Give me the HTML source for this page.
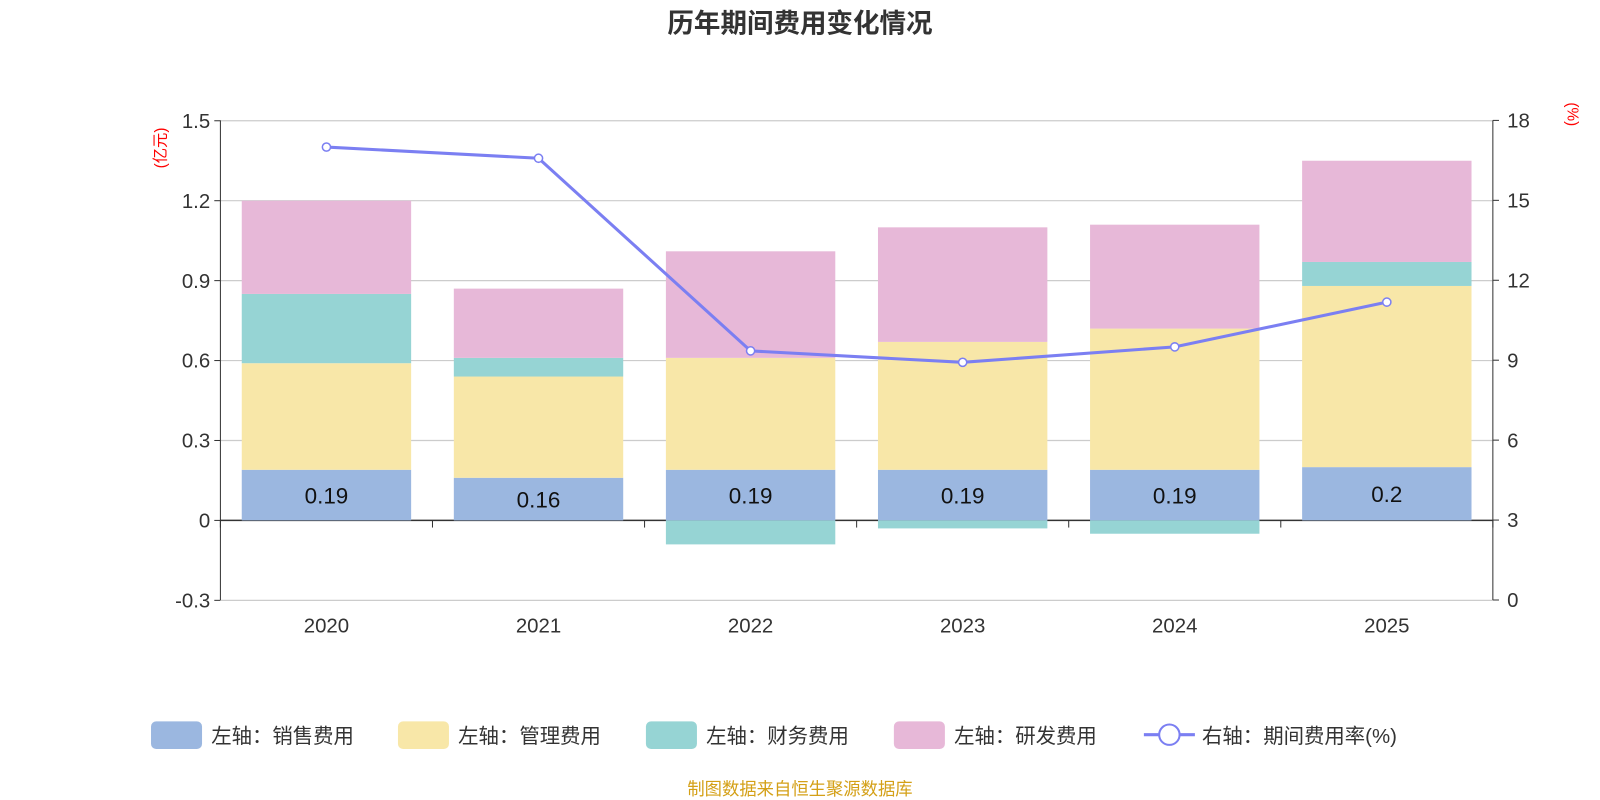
<!DOCTYPE html>
<html><head><meta charset="utf-8"><style>
body{margin:0;background:#fff;font-family:"Liberation Sans","Noto Sans CJK SC",sans-serif}
</style></head><body>
<svg id="c" width="1600" height="800" viewBox="0 0 1568 784" xmlns="http://www.w3.org/2000/svg" style="font-family:'Liberation Sans','Noto Sans CJK SC',sans-serif;display:block">
<text x="784" y="32" text-anchor="middle" font-size="26" font-weight="bold" fill="#333">历年期间费用变化情况</text>
<text transform="translate(162,145) rotate(-90)" text-anchor="middle" font-size="15" fill="red">(亿元)</text>
<text transform="translate(1536,112) rotate(90)" text-anchor="middle" font-size="15" fill="red">(%)</text>
<g id="grid"></g><g id="bars"></g><g id="axes"></g><g id="line"></g>
<g id="legend" font-size="20" fill="#333">
<g><rect x="148" y="707" width="50" height="27" rx="5" fill="#9bb7e0"/><text x="207" y="728">左轴：销售费用</text></g>
<g><rect x="390" y="707" width="50" height="27" rx="5" fill="#f8e7a8"/><text x="449" y="728">左轴：管理费用</text></g>
<g><rect x="633" y="707" width="50" height="27" rx="5" fill="#96d4d4"/><text x="692" y="728">左轴：财务费用</text></g>
<g><rect x="876" y="707" width="50" height="27" rx="5" fill="#e7b8d8"/><text x="935" y="728">左轴：研发费用</text></g>
<g><line x1="1121" y1="720" x2="1171" y2="720" stroke="#7b7ff2" stroke-width="3"/><circle cx="1146" cy="720" r="10" fill="#fff" stroke="#7b7ff2" stroke-width="2"/><text x="1178" y="728">右轴：期间费用率(%)</text></g>
</g>
<text x="784" y="779" text-anchor="middle" font-size="17" fill="#d4a017">制图数据来自恒生聚源数据库</text>
</svg>
<script>
const categories=["2020","2021","2022","2023","2024","2025"];
const sales=[0.19,0.16,0.19,0.19,0.19,0.2];
const admin=[0.40,0.38,0.42,0.48,0.53,0.68];
const finance=[0.26,0.07,-0.09,-0.03,-0.05,0.09];
const rd=[0.35,0.26,0.40,0.43,0.39,0.38];
const rate=[17.0,16.58,9.35,8.92,9.5,11.18];
const leftTicks=[-0.3,0,0.3,0.6,0.9,1.2,1.5];
const rightTicks=[0,3,6,9,12,15,18];
const NS="http://www.w3.org/2000/svg";
const X0=216,X1=1463,band=(X1-X0)/categories.length,bw=166;
const yL=v=>510-v*(78.33/0.3);
const yR=v=>588-v*(470/18);
const xc=i=>X0+band*(i+0.5);
function mk(t,a,p){const e=document.createElementNS(NS,t);for(const k in a)e.setAttribute(k,a[k]);document.getElementById(p).appendChild(e);return e;}
leftTicks.forEach((t,i)=>{
 const g=mk('line',{x1:X0,x2:X1,y1:yL(t),y2:yL(t),stroke:t===0?'#333':'#ccc','stroke-width':t===0?1.5:1.2},'grid');
 
 
 const l=mk('text',{x:X0-10,y:yL(t)+7,'text-anchor':'end','font-size':20,fill:'#333'},'axes');l.textContent=t===0?'0':t.toFixed(1);
 
 
 mk('line',{x1:X0-6,x2:X0,y1:yL(t),y2:yL(t),stroke:'#333'},'axes');
});
rightTicks.forEach(t=>{
 const l=mk('text',{x:X1+14,y:yR(t)+7,'font-size':20,fill:'#333'},'axes');l.textContent=t;
 
 
 mk('line',{x1:X1,x2:X1+6,y1:yR(t),y2:yR(t),stroke:'#333'},'axes');
});
mk('line',{x1:X0,x2:X0,y1:118,y2:588,stroke:'#333'},'axes');
mk('line',{x1:X1,x2:X1,y1:118,y2:588,stroke:'#333'},'axes');
for(let i=0;i<=categories.length;i++)mk('line',{x1:X0+band*i,x2:X0+band*i,y1:510,y2:517,stroke:'#333'},'axes');
categories.forEach((c,i)=>{
 const l=mk('text',{x:xc(i),y:620,'text-anchor':'middle','font-size':20,fill:'#333'},'axes');l.textContent=c;
 
 
 let pos=0,neg=0;
 [[sales,'#9bb7e0','bar-sales'],[admin,'#f8e7a8','bar-admin'],[finance,'#96d4d4','bar-finance'],[rd,'#e7b8d8','bar-rd']].forEach(([arr,col,nm])=>{
  const v=arr[i];let a,b;
  if(v>=0){a=pos;b=pos+v;pos=b;}else{a=neg;b=neg+v;neg=b;}
  const r=mk('rect',{x:xc(i)-bw/2,width:bw,y:Math.min(yL(a),yL(b)),height:Math.abs(yL(a)-yL(b)),fill:col},'bars');
  
  
 });
 const t=mk('text',{x:xc(i),y:(yL(0)+yL(sales[i]))/2+8,'text-anchor':'middle','font-size':22,fill:'#111'},'bars');t.textContent=sales[i];
 
 
});
const p=mk('polyline',{points:rate.map((v,i)=>xc(i)+','+yR(v)).join(' '),fill:'none',stroke:'#7b7ff2','stroke-width':3},'line');


rate.forEach((v,i)=>{const c=mk('circle',{cx:xc(i),cy:yR(v),r:4,fill:'#fff',stroke:'#7b7ff2','stroke-width':1.5},'line');
 
 });
</script>
</body></html>
